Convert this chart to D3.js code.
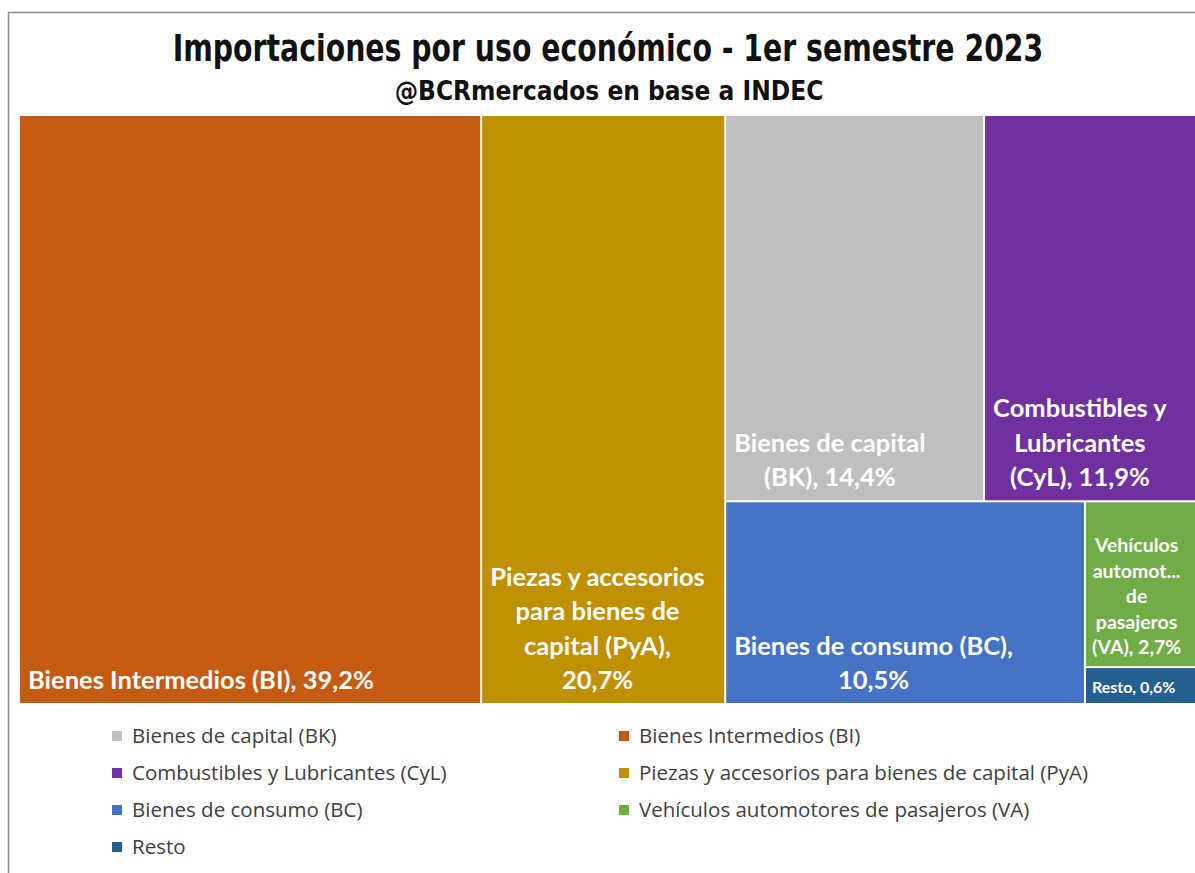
<!DOCTYPE html>
<html>
<head>
<meta charset="utf-8">
<script src="https://cdn.jsdelivr.net/npm/d3@7"></script>
<style>
  body { margin: 0; background: #fff; }
  svg { display: block; }
</style>
</head>
<body>
<svg id="drawing_region"></svg>
<script>
// datos
const codes = ['BI', 'PyA', 'BK', 'CyL', 'BC', 'VA', 'Resto'];
const names = [
    'Bienes Intermedios (BI)',
    'Piezas y accesorios para bienes de capital (PyA)',
    'Bienes de capital (BK)',
    'Combustibles y Lubricantes (CyL)',
    'Bienes de consumo (BC)',
    'Vehículos automotores de pasajeros (VA)',
    'Resto'
];
const values = [39.2, 20.7, 14.4, 11.9, 10.5, 2.7, 0.6];
const colors = ['#C55A11', '#BF9000', '#BFBFBF', '#7030A0', '#4472C4', '#70AD47', '#255E91'];
// etiquetas, "%v" = valor
const labelLines = [
    ['Bienes Intermedios (BI), %v'],
    ['Piezas y accesorios', 'para bienes de', 'capital (PyA),', '%v'],
    ['Bienes de capital', '(BK), %v'],
    ['Combustibles y', 'Lubricantes', '(CyL), %v'],
    ['Bienes de consumo (BC),', '%v'],
    ['Vehículos', 'automot...', 'de', 'pasajeros', '(VA), %v'],
    ['Resto, %v']
];
// agrupamiento del treemap (indices)
const structure = [0, 1, [[2, 3], [4, [5, 6]]]];
// orden de la leyenda
const legendOrder = [2, 0, 3, 1, 4, 5, 6];

const W = 1195, H = 873;
const svg = d3.select('#drawing_region').attr('width', W).attr('height', H);

// marco
svg.append('path')
    .attr('d', `M8.5,${H} V12.5 H${W}`)
    .attr('fill', 'none')
    .attr('stroke', '#8c8c8c')
    .attr('stroke-width', 1.5);

const titleFont = '"Liberation Sans Narrow", "DejaVu Sans Condensed", sans-serif';

// titulo condensado: se escala en x hasta el ancho del original
function condensedText(txt, x, y, size, width) {
    const g = svg.append('g');
    const t = g.append('text')
        .attr('text-anchor', 'middle')
        .style('font-family', titleFont)
        .style('font-weight', 'bold')
        .style('font-size', size + 'px')
        .attr('fill', '#111')
        .text(txt);
    const k = Math.min(1, width / t.node().getComputedTextLength());
    g.attr('transform', `translate(${x}, ${y}) scale(${k}, 1)`);
}
condensedText('Importaciones por uso económico - 1er semestre 2023', 608, 61, 38, 871);
condensedText('@BCRmercados en base a INDEC', 609, 100, 26, 438);

// jerarquia
function build(s) {
    if (Array.isArray(s)) return { children: s.map(build) };
    return { i: s, value: values[s] };
}
const root = d3.hierarchy(build(structure)).sum(d => d.value || 0);

const box = { x0: 20, y0: 116, x1: 1197, y1: 703 };
d3.treemap()
    .size([box.x1 - box.x0, box.y1 - box.y0])
    .paddingInner(2)
    .round(false)
    .tile((node, x0, y0, x1, y1) => {
        (node.depth % 2 === 0 ? d3.treemapDice : d3.treemapSlice)(node, x0, y0, x1, y1);
    })(root);

const fmt = v => d3.format('.1f')(v).replace('.', ',') + '%';
const fontLabel = 'Lato, "Open Sans", sans-serif';

const cells = svg.append('g')
    .attr('transform', `translate(${box.x0}, ${box.y0})`)
    .selectAll('g')
    .data(root.leaves())
    .join('g');

cells.append('rect')
    .attr('x', d => d.x0)
    .attr('y', d => d.y0)
    .attr('width', d => d.x1 - d.x0)
    .attr('height', d => d.y1 - d.y0)
    .attr('fill', d => colors[d.data.i]);

cells.each(function (d) {
    const i = d.data.i;
    const small = (d.x1 - d.x0) < 150;
    const size = i === 6 ? 16 : (small ? 19.5 : 25.5);
    const lh = i === 6 ? 18 : (small ? 25.5 : 34.5);
    const bottomPad = i === 6 ? 10 : (small ? 12 : 14);
    const lines = labelLines[i].map(t => t.replace('%v', fmt(values[i])));
    const g = d3.select(this);
    const texts = g.selectAll('text.lbl')
        .data(lines)
        .join('text')
        .attr('class', 'lbl')
        .style('font-family', fontLabel)
        .style('font-weight', 'bold')
        .style('font-size', size + 'px')
        .attr('fill', '#fff')
        .attr('text-anchor', 'middle')
        .text(t => t);
    let wmax = 0;
    texts.each(function () { wmax = Math.max(wmax, this.getComputedTextLength()); });
    const pad = small ? 6 : 8;
    const cx = d.x0 + pad + wmax / 2;
    texts
        .attr('x', cx)
        .attr('y', (t, k) => d.y1 - bottomPad - (lines.length - 1 - k) * lh);
});

// leyenda
const legX = [112, 619];
const legY0 = 736, legDy = 37;
const legend = svg.append('g')
    .selectAll('g')
    .data(legendOrder)
    .join('g')
    .attr('transform', (d, k) => `translate(${legX[k % 2]}, ${legY0 + Math.floor(k / 2) * legDy})`);

legend.append('rect')
    .attr('x', 0).attr('y', -5)
    .attr('width', 10).attr('height', 10)
    .attr('fill', d => colors[d]);

legend.append('text')
    .attr('x', 20).attr('y', 7)
    .style('font-family', '"Open Sans", sans-serif')
    .style('font-size', '20.5px')
    .attr('fill', '#404040')
    .text(d => names[d]);
</script>
</body>
</html>
